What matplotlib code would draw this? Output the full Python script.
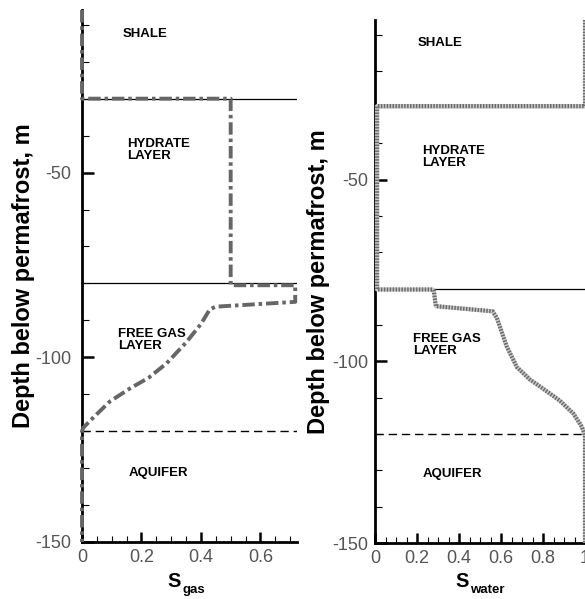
import matplotlib
matplotlib.use("Agg")
import matplotlib.pyplot as plt
from matplotlib.ticker import MultipleLocator, FixedLocator, FuncFormatter

# ---------------- data ----------------
gas_depth = [-6, -30, -30, -80.5, -80.5, -85, -86.3, -87, -91, -96, -101.6, -105.5,
             -108.5, -112, -116.4, -119, -120, -150]
gas_sat = [0, 0, 0.5, 0.5, 0.717, 0.717, 0.45, 0.43, 0.40, 0.35, 0.285, 0.225,
           0.16, 0.093, 0.037, 0.005, 0, 0]

water_depth = [-6, -29.7, -29.7, -80.2, -80.2, -80.6, -84.8, -86.2, -88, -96, -101.6,
               -105, -107.5, -110.8, -114.4, -118, -120.4, -150]
water_sat = [1.0, 1.0, 0.01, 0.01, 0.275, 0.28, 0.29, 0.56, 0.58, 0.628, 0.676,
             0.738, 0.80, 0.88, 0.945, 0.985, 1.0, 1.0]

boundary_solid = [-30, -80]
boundary_dashed = [-120]

layer_names = ["SHALE", "HYDRATE\nLAYER", "FREE GAS\nLAYER", "AQUIFER"]
# (x, y, ha) per panel
gas_label_pos = [(0.213, -12.6, "center"), (0.153, -43.8, "left"),
                 (0.12, -95.3, "left"), (0.257, -131.3, "center")]
water_label_pos = [(0.31, -12.3, "center"), (0.224, -43.7, "left"),
                   (0.181, -95.5, "left"), (0.371, -131.0, "center")]

gas_xticks = [0, 0.2, 0.4, 0.6]
water_xticks = [0, 0.2, 0.4, 0.6, 0.8, 1.0]
yticks = [-150, -100, -50]

W, H = 585, 599
fig = plt.figure(figsize=(W / 100, H / 100), dpi=100)
fig.patch.set_facecolor("white")

FONT = ["Liberation Sans", "DejaVu Sans"]


def px_rect(x0, y0, x1, y1):
    return [x0 / W, (H - y1) / H, (x1 - x0) / W, (y1 - y0) / H]


ax1 = fig.add_axes(px_rect(82, 10, 297, 542))
ax2 = fig.add_axes(px_rect(375, 20, 585, 543))


def style(ax, xmax, xticks, ypad):
    ax.set_xlim(0, xmax)
    ax.set_ylim(-150, -6)
    for s in ["top", "right"]:
        ax.spines[s].set_visible(False)
    for s in ["left", "bottom"]:
        ax.spines[s].set_linewidth(2.0)
        ax.spines[s].set_color("black")
    ax.xaxis.set_major_locator(FixedLocator(xticks))
    ax.xaxis.set_minor_locator(MultipleLocator(0.05))
    ax.yaxis.set_major_locator(FixedLocator(yticks))
    ax.yaxis.set_minor_locator(MultipleLocator(10))
    ax.xaxis.set_major_formatter(FuncFormatter(lambda v, p: "0" if abs(v) < 1e-9 else ("1" if abs(v - 1) < 1e-9 else f"{v:.1f}")))
    ax.yaxis.set_major_formatter(FuncFormatter(lambda v, p: f"{int(round(v))}"))
    ax.tick_params(axis="y", which="major", direction="in", length=8.5, width=1.8, pad=ypad)
    ax.tick_params(axis="y", which="minor", direction="in", length=5, width=0.8)
    ax.tick_params(axis="x", which="major", direction="in", length=7, width=1.8, pad=5)
    ax.tick_params(axis="x", which="minor", direction="in", length=4, width=0.8)
    for lab in ax.get_xticklabels() + ax.get_yticklabels():
        lab.set_fontfamily(FONT)
        lab.set_fontsize(13)
        lab.set_color("#555555")
    for yb in boundary_solid:
        ax.axhline(yb, color="black", lw=0.9, zorder=2)
    for yb in boundary_dashed:
        ax.axhline(yb, color="black", lw=1.0, dashes=(6, 3.5), zorder=2)


style(ax1, 0.723, gas_xticks, 8)
style(ax2, 1.0, water_xticks, 5)

# gas curve
ax1.plot(gas_sat, gas_depth, color="#666666", lw=2.8, dashes=(3.2, 1.0, 0.9, 1.0),
         clip_on=False, zorder=5, solid_capstyle="butt", dash_capstyle="butt")

# water curve (hatched look)
ax2.plot(water_sat, water_depth, color="#c8c8c8", lw=3.0, zorder=4)
ax2.plot(water_sat, water_depth, color="#6a6a6a", lw=3.0, dashes=(0.35, 0.35),
         zorder=5, dash_capstyle="butt")

for ax, positions in [(ax1, gas_label_pos), (ax2, water_label_pos)]:
    for name, (x, y, ha) in zip(layer_names, positions):
        ax.text(x, y, name, ha=ha, va="center", fontsize=9.5, fontweight="bold",
                family=FONT, linespacing=1.0, color="black", zorder=6)

# y labels
fig.text(24 / W, 1 - 276 / H, "Depth below permafrost, m", rotation=90, ha="center",
         va="center", fontsize=17, fontweight="bold", family=FONT)
fig.text(319 / W, 1 - 282 / H, "Depth below permafrost, m", rotation=90, ha="center",
         va="center", fontsize=17, fontweight="bold", family=FONT)

# x labels
fig.text(167 / W, 1 - 587 / H, "S", ha="left", va="baseline", fontsize=14.5,
         fontweight="bold", family=FONT)
fig.text(182.5 / W, 1 - 593 / H, "gas", ha="left", va="baseline", fontsize=9.5,
         fontweight="bold", family=FONT)
fig.text(455 / W, 1 - 587 / H, "S", ha="left", va="baseline", fontsize=14.5,
         fontweight="bold", family=FONT)
fig.text(470.5 / W, 1 - 593 / H, "water", ha="left", va="baseline", fontsize=9.5,
         fontweight="bold", family=FONT)

fig.savefig("out.png", dpi=100, facecolor="white")
